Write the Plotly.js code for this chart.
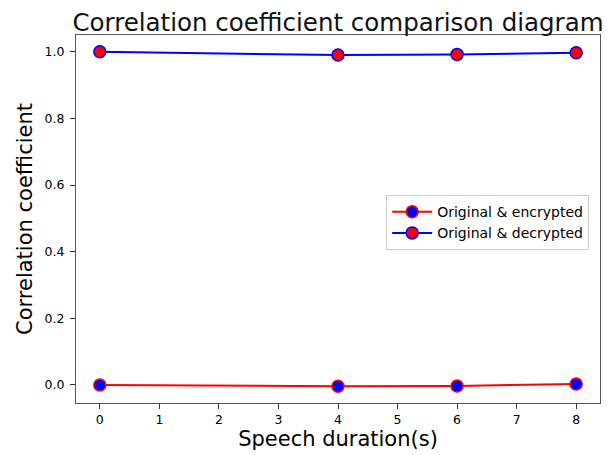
<!DOCTYPE html>
<html>
<head>
<meta charset="utf-8">
<script src="https://cdn.plot.ly/plotly-3.0.1.min.js"></script>
<style>html,body{margin:0;padding:0;background:#fff;}#chart{width:608px;height:455px;}</style>
</head>
<body>
<div id="chart"></div>
<script>
const durations = [0, 4, 6, 8];
const encrypted = [0.000, -0.004, -0.003, 0.003];
const decrypted = [1.000, 0.990, 0.992, 0.997];
const xTicks = [0, 1, 2, 3, 4, 5, 6, 7, 8];
const yTicks = [0.0, 0.2, 0.4, 0.6, 0.8, 1.0];

const font = "DejaVu Sans, sans-serif";
const traces = [
  {x: durations, y: encrypted, name: "Original & encrypted", mode: "lines+markers",
   line: {color: "red", width: 2},
   marker: {color: "blue", size: 12, line: {color: "red", width: 1.5}}},
  {x: durations, y: decrypted, name: "Original & decrypted", mode: "lines+markers",
   line: {color: "blue", width: 2},
   marker: {color: "red", size: 12, line: {color: "blue", width: 1.5}}}
];
const layout = {
  width: 608, height: 455,
  margin: {l: 76, r: 8, t: 35, b: 52},
  paper_bgcolor: "#fff", plot_bgcolor: "#fff",
  font: {family: font, color: "#000"},
  title: {text: "Correlation coefficient comparison diagram", font: {size: 24.5, family: font, color: "#111"},
          x: 0.5, xref: "paper", xanchor: "center", y: 1, yref: "paper", yanchor: "bottom", pad: {b: 4}},
  xaxis: {range: [-0.4, 8.4], tickvals: xTicks, ticktext: xTicks.map(String),
          showgrid: false, zeroline: false, showline: true, mirror: true, linecolor: "#555", linewidth: 1,
          ticks: "outside", ticklen: 5, tickcolor: "#333", tickfont: {size: 12.5, family: font},
          title: {text: "Speech duration(s)", font: {size: 21, family: font}, standoff: 5}},
  yaxis: {range: [-0.0542, 1.0502], tickvals: yTicks, ticktext: yTicks.map(v => v.toFixed(1)),
          showgrid: false, zeroline: false, showline: true, mirror: true, linecolor: "#555", linewidth: 1,
          ticks: "outside", ticklen: 5, tickcolor: "#333", tickfont: {size: 12.5, family: font},
          ticklabelstandoff: 3,
          title: {text: "Correlation coefficient", font: {size: 21, family: font}, standoff: 6}},
  legend: {x: 0.592, y: 0.565, xanchor: "left", yanchor: "top", bgcolor: "rgba(255,255,255,0.8)",
           bordercolor: "#ccc", borderwidth: 1, font: {size: 14, family: font}, tracegroupgap: 0,
           itemwidth: 40},
  showlegend: true
};
Plotly.newPlot("chart", traces, layout, {displayModeBar: false, staticPlot: true});
</script>
</body>
</html>
